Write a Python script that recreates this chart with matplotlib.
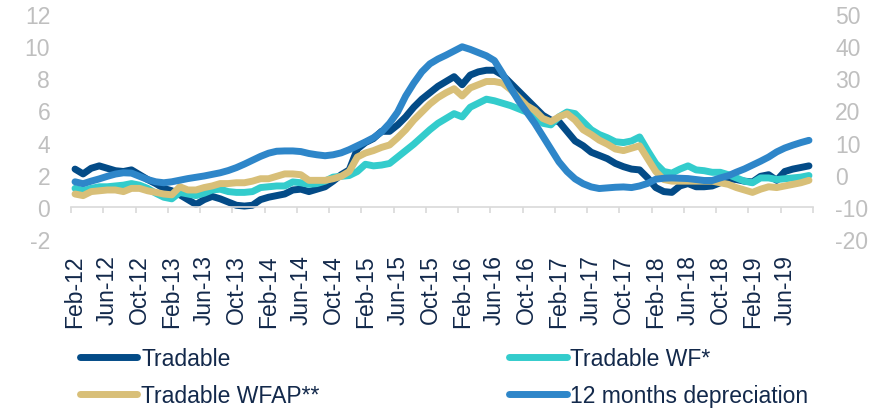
import numpy as np
import pandas as pd
import matplotlib
matplotlib.use('Agg')
import matplotlib.pyplot as plt

plt.rcParams['font.family'] = ['Liberation Sans', 'DejaVu Sans']
plt.rcParams['axes.unicode_minus'] = False

# monthly data Feb-12 .. Sep-19
months = pd.date_range('2012-02-01', periods=92, freq='MS')
month_labels = [d.strftime('%b-%y') for d in months]

tradable = [2.35, 2.05, 2.4, 2.55, 2.4, 2.25, 2.2, 2.3, 2.0, 1.7,
            1.45, 1.15, 1.0, 0.75, 0.45, 0.15, 0.45, 0.65, 0.5, 0.3,
            0.1, 0.05, 0.1, 0.45, 0.6, 0.7, 0.8, 1.05, 1.1, 0.95,
            1.1, 1.25, 1.6, 2.0, 2.3, 3.6, 4.0, 4.25, 4.7, 4.7,
            5.1, 5.6, 6.2, 6.7, 7.1, 7.5, 7.8, 8.1, 7.6, 8.2,
            8.4, 8.5, 8.5, 8.2, 7.7, 7.2, 6.7, 6.2, 5.7, 5.4,
            5.3, 4.7, 4.1, 3.8, 3.4, 3.2, 3.0, 2.7, 2.5, 2.35,
            2.3, 1.8, 1.2, 0.95, 0.9, 1.3, 1.45, 1.25, 1.25, 1.3,
            1.5, 1.75, 1.7, 1.6, 1.55, 1.9, 2.0, 1.65, 2.2, 2.35,
            2.45, 2.55]

tradable_wf = [1.15, 1.0, 1.15, 1.25, 1.25, 1.3, 1.35, 1.45, 1.35, 1.15,
               0.85, 0.6, 0.5, 0.9, 0.8, 0.7, 0.85, 1.05, 1.1, 0.95,
               0.9, 0.9, 0.95, 1.2, 1.25, 1.3, 1.3, 1.55, 1.5, 1.4,
               1.45, 1.6, 1.85, 1.9, 1.95, 2.2, 2.65, 2.55, 2.6, 2.7,
               3.1, 3.5, 3.9, 4.35, 4.8, 5.2, 5.5, 5.8, 5.6, 6.2,
               6.45, 6.7, 6.6, 6.45, 6.3, 6.1, 5.9, 5.7, 5.2, 5.1,
               5.6, 5.9, 5.8, 5.3, 4.8, 4.5, 4.3, 4.05, 4.0, 4.1,
               4.35, 3.5, 2.7, 2.2, 2.1, 2.35, 2.55, 2.3, 2.25, 2.15,
               2.15, 2.0, 1.8, 1.6, 1.5, 1.8, 1.8, 1.7, 1.75, 1.8,
               1.85, 1.95]

tradable_wfap = [0.8, 0.7, 0.95, 1.0, 1.05, 1.05, 0.95, 1.15, 1.15, 1.0,
                 0.9, 0.8, 0.75, 1.25, 1.05, 1.05, 1.2, 1.3, 1.45, 1.45,
                 1.5, 1.5, 1.6, 1.75, 1.75, 1.9, 2.05, 2.05, 2.0, 1.65,
                 1.65, 1.65, 1.75, 1.9, 2.2, 3.1, 3.35, 3.5, 3.7, 3.85,
                 4.3, 4.8, 5.4, 5.9, 6.4, 6.8, 7.1, 7.35, 6.9, 7.4,
                 7.6, 7.8, 7.8, 7.7, 7.3, 6.8, 6.3, 6.0, 5.5, 5.3,
                 5.6, 5.8, 5.4, 4.8, 4.5, 4.15, 3.9, 3.6, 3.5, 3.65,
                 3.8, 3.0, 2.2, 1.7, 1.6, 1.6, 1.6, 1.6, 1.6, 1.6,
                 1.5, 1.4, 1.2, 1.05, 0.9, 1.1, 1.25, 1.2, 1.3, 1.4,
                 1.5, 1.65]

depreciation = [-2.2, -2.8, -2.0, -1.3, -0.5, 0.2, 0.6, 0.5, -0.5, -1.5,
                -2.2, -2.5, -2.2, -1.7, -1.2, -0.8, -0.4, 0.1, 0.6, 1.3,
                2.2, 3.3, 4.5, 5.7, 6.7, 7.3, 7.4, 7.4, 7.2, 6.6,
                6.2, 5.9, 6.2, 6.8, 7.8, 9.0, 10.2, 11.5, 13.3, 16.0,
                19.5, 24.5, 28.5, 32.0, 34.5, 36.0, 37.2, 38.5, 39.8, 39.0,
                38.0, 37.0, 35.5, 31.5, 27.0, 23.0, 19.5, 16.0, 12.0, 8.0,
                4.0, 1.0, -1.3, -2.8, -3.8, -4.3, -4.1, -3.9, -3.8, -4.0,
                -3.5, -2.7, -1.4, -1.1, -1.0, -1.1, -1.2, -1.5, -1.8, -1.8,
                -1.0, -0.3, 0.8, 1.8, 3.0, 4.2, 5.5, 7.1, 8.3, 9.2,
                10.0, 10.7]

c_trad = '#034B87'
c_wf = '#33CCCC'
c_wfap = '#D8BF78'
c_dep = '#2E86C9'
txt = '#13294B'
grey = '#BFBFBF'

x = np.arange(len(months))
lw = 5
kw = dict(lw=lw, solid_joinstyle='round', solid_capstyle='round')

fig = plt.figure(figsize=(8.79, 4.10), dpi=100)
ax = fig.add_axes([71/879, 1-240/410, 742/879, 225/410])
ax2 = ax.twinx()

l1, = ax.plot(x, tradable, color=c_trad, label='Tradable', **kw)
l2, = ax.plot(x, tradable_wf, color=c_wf, label='Tradable WF*', **kw)
l3, = ax.plot(x, tradable_wfap, color=c_wfap, label='Tradable WFAP**', **kw)
l4, = ax2.plot(x, depreciation, color=c_dep, label='12 months depreciation', **kw)

ax.set_xlim(-0.5, len(x) - 0.5)
ax.set_ylim(-2, 12)
ax.set_yticks(np.arange(-2, 13, 2))
ax2.set_ylim(-20, 50)
ax2.set_yticks(np.arange(-20, 51, 10))

for a in (ax, ax2):
    for s in ('top', 'left', 'right'):
        a.spines[s].set_visible(False)
ax2.spines['bottom'].set_visible(False)
ax.spines['bottom'].set_position(('data', 0))
ax.spines['bottom'].set_color('#D9D9D9')
ax.spines['bottom'].set_linewidth(1.2)

ax.set_xticks(x[::4])
ax.set_xticklabels(month_labels[::4], rotation=90, fontsize=16.5, color=txt)
ax.set_xticks(np.arange(-0.5, len(x), 4), minor=True)
ax.tick_params(axis='x', which='major', length=0, pad=34)
ax.tick_params(axis='x', which='minor', length=4.5, width=1.2, color='#D9D9D9', direction='out')

ax.tick_params(axis='y', length=0, pad=15, labelsize=16.5, labelcolor=grey)
ax2.tick_params(axis='y', length=0, pad=16, labelsize=16.5, labelcolor=grey)

fig.legend([l1, l3, l2, l4], [l1.get_label(), l3.get_label(), l2.get_label(), l4.get_label()],
           ncol=2, loc='upper left', bbox_to_anchor=(80/879, 1-348/410),
           frameon=False, fontsize=16.5, labelcolor=txt, borderpad=0, borderaxespad=0,
           handlelength=2.5, handletextpad=0.17, columnspacing=8.28, labelspacing=0.62)

fig.savefig('out.png', dpi=100)
